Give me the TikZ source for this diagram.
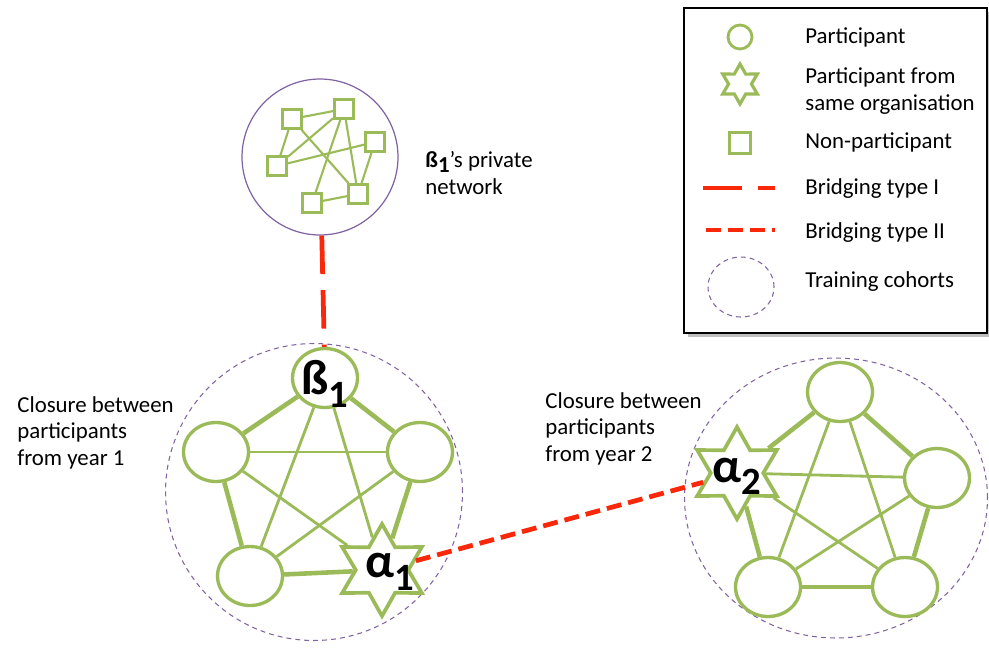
\documentclass[tikz,border=0pt]{standalone}
\usepackage{fontspec}
\setmainfont{Carlito}
\usepackage{xcolor}
\usepackage{tikz}
\usetikzlibrary{positioning,shapes.geometric}

\definecolor{partgreen}{RGB}{155,187,89}
\definecolor{cohortpurple}{RGB}{128,100,162}
\definecolor{bridgered}{RGB}{250,40,10}

% big bold node label with a lowered index
\newcommand{\nodelab}[3]{\makebox[0pt]{\smash{\raisebox{-#3}{\bfseries\fontsize{28}{28}\selectfont #1\raisebox{-7pt}{\fontsize{22}{22}\selectfont #2}}}}}

\begin{document}
\begin{tikzpicture}[
  x=0.02cm, y=-0.02cm,
  every node/.style={font=\fontsize{13}{15}\selectfont},
  part/.style={ellipse, draw=partgreen, line width=1.9pt, fill=white,
    minimum width=1.3cm, minimum height=1.18cm, inner sep=0pt},
  partstar/.style={star, star points=6, star point ratio=1.75, draw=partgreen,
    line width=2.1pt, fill=white, minimum size=1.84cm, inner sep=0pt},
  nonpart/.style={rectangle, draw=partgreen, line width=1.6pt, fill=white,
    minimum size=0.38cm, inner sep=0pt},
  cohort/.style={ellipse, draw=cohortpurple, line width=0.6pt,
    dash pattern=on 2.8pt off 2.3pt, inner sep=0pt},
  tie/.style={draw=partgreen, line width=2.6pt},
  weaktie/.style={draw=partgreen, line width=1.6pt},
  nettie/.style={draw=partgreen, line width=1.2pt},
  bridgeone/.style={draw=bridgered, line width=2.7pt, dash pattern=on 0.77cm off 0.32cm},
  bridgetwo/.style={draw=bridgered, line width=2.7pt, dash pattern=on 0.3cm off 0.14cm},
  txt/.style={anchor=base west, inner sep=0pt, align=left}
]
\useasboundingbox (0,0) rectangle (989,647);

% legend
\fill[black!25] (688,12) rectangle (991,337);
\draw[line width=1.4pt, fill=white] (684,8) rectangle (987,333);
\node[part, minimum width=0.48cm, minimum height=0.48cm, line width=1.6pt] (keypart) at (740,37) {};
\node[partstar, minimum size=0.8cm, line width=1.8pt] (keystar) at (740,84) {};
\node[nonpart, minimum size=0.42cm] (keynon) at (740,143) {};
\coordinate (keyonea) at (703,188);
\coordinate (keyoneb) at (775,188);
\coordinate (keytwoa) at (706,230);
\coordinate (keytwob) at (775,230);
\node[cohort, minimum width=1.32cm, minimum height=1.2cm] (keycohort) at (741,287) {};
\draw[bridgeone] (keyonea) -- (keyoneb);
\draw[bridgetwo] (keytwoa) -- (keytwob);
\node[txt] (keypartlab) at (805,43) {Participant};
\node[txt] (keystarlab) at (805,110) {\fontsize{13}{14}\selectfont Participant from\\same organisation};
\node[txt] (keynonlab) at (805,148) {Non-participant};
\node[txt] (keyonelab) at (805,194) {Bridging type I};
\node[txt] (keytwolab) at (805,238) {Bridging type II};
\node[txt] (keycohortlab) at (805,287) {Training cohorts};

% cohorts
\node[cohort, minimum size=5.94cm] (cohort1) at (314,492) {};
\node[cohort, minimum width=6.06cm, minimum height=5.6cm] (cohort2) at (836,498) {};
\node[txt] (cohort1lab) at (17,465) {Closure between\\participants\\from year 1};
\node[txt] (cohort2lab) at (545,461) {Closure between\\participants\\from year 2};

% private network of beta 1
\node[circle, draw=cohortpurple, line width=0.7pt, minimum size=3.12cm] (pnet) at (320,157) {};
\node[nonpart] (n1) at (292,119) {};
\node[nonpart] (n2) at (344,109) {};
\node[nonpart] (n3) at (375,142) {};
\node[nonpart] (n4) at (277,166) {};
\node[nonpart] (n5) at (358,194) {};
\node[nonpart] (n6) at (312,203) {};
\draw[nettie] (n1) -- (n2);
\draw[nettie] (n1) -- (n4);
\draw[nettie] (n1) -- (n5);
\draw[nettie] (n2) -- (n4);
\draw[nettie] (n2) -- (n5);
\draw[nettie] (n2) -- (n6);
\draw[nettie] (n4) -- (n3);
\draw[nettie] (n3) -- (n5);
\draw[nettie] (n6) -- (n5);
\node[txt] (pnetlab) at (425,194) {\fontsize{13}{17}\selectfont{\bfseries ß\raisebox{-2.5pt}{1}}’s private\\network};

% year 1
\node[part] (b1) at (325,378) {\nodelab{ß}{1}{9.5pt}};
\node[part] (p1l) at (216,452) {};
\node[part] (p1r) at (420,452) {};
\node[part] (p1bl) at (250,576) {};
\node[partstar] (a1) at (382,570) {\hspace*{9pt}\nodelab{α}{1}{4.5pt}};
\draw[tie] (b1) -- (p1l);
\draw[tie] (b1) -- (p1r);
\draw[tie] (p1l) -- (p1bl);
\draw[tie] (p1r) -- (a1);
\draw[tie] (p1bl) -- (a1);
\draw[weaktie] (b1) -- (p1bl);
\draw[weaktie] (b1) -- (a1);
\draw[weaktie] (p1l) -- (p1r);
\draw[weaktie] (p1l) -- (a1);
\draw[weaktie] (p1r) -- (p1bl);

% year 2
\node[part] (p2t) at (840,392) {};
\node[partstar] (a2) at (737,473) {\nodelab{α}{2}{5.5pt}};
\node[part] (p2r) at (937,478) {};
\node[part] (p2bl) at (768,587) {};
\node[part] (p2br) at (905,587) {};
\draw[tie] (p2t) -- (a2);
\draw[tie] (p2t) -- (p2r);
\draw[tie] (a2) -- (p2bl);
\draw[tie] (p2r) -- (p2br);
\draw[tie] (p2bl) -- (p2br);
\draw[weaktie] (p2t) -- (p2bl);
\draw[weaktie] (p2t) -- (p2br);
\draw[weaktie] (a2) -- (p2r);
\draw[weaktie] (a2) -- (p2br);
\draw[weaktie] (p2r) -- (p2bl);

% bridging ties
\draw[bridgeone] (pnet) -- (b1);
\draw[bridgetwo] (a1) -- (a2);
\end{tikzpicture}
\end{document}
